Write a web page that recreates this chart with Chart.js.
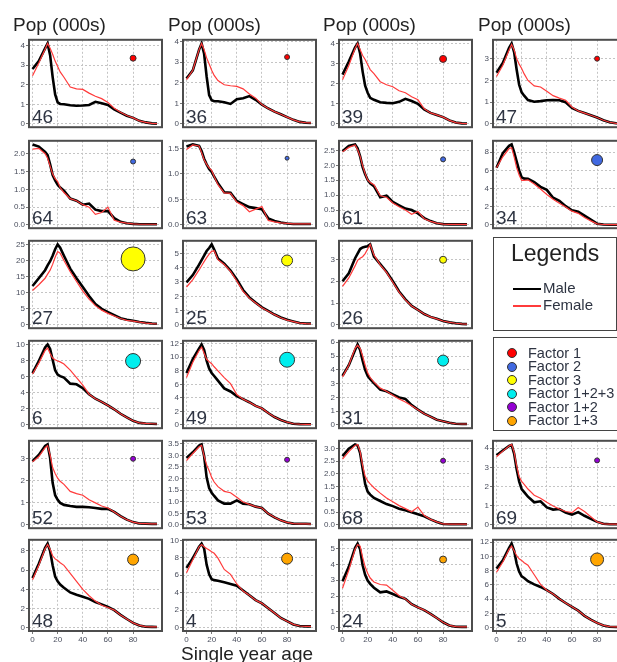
<!DOCTYPE html>
<html lang="en">
<head>
<meta charset="UTF-8">
<title>Pop (000s) by single year age</title>
<script src="https://cdn.jsdelivr.net/npm/chart.js"></script>
<style>
  html, body { margin: 0; padding: 0; background: #fff; }
  #page { position: relative; width: 617px; height: 662px; overflow: hidden;
          font-family: 'Liberation Sans', Arial, sans-serif; color: #222; }
  #page canvas { position: absolute; }
  .txt { position: absolute; white-space: nowrap; line-height: 1; }
  .pop { font-size: 19px; }
  .box { position: absolute; border: 1.5px solid #444; box-sizing: border-box; background: #fff; }
  .dot { position: absolute; width: 10px; height: 10px; border-radius: 50%;
         border: 1px solid #333; box-sizing: border-box; }
</style>
</head>
<body>
<div id="page"></div>
<script>
// single year age sample points
const ages = [0,5,10,12,14,16,18,20,22,25,30,35,40,45,50,55,60,65,70,75,80,85,90,95,99];
const xTicks = [0, 20, 40, 60, 80];

// population (000s), male and female, per area
const m46 = [2.8,3.2,3.85,4.1,3.5,2.4,1.5,1.1,1.02,1.0,0.95,0.93,0.94,0.97,1.13,1.05,0.97,0.74,0.58,0.42,0.31,0.16,0.08,0.03,0.02];
const f46 = [2.45,3.1,3.8,4.1,3.85,3.55,3.2,2.93,2.65,2.38,1.88,1.79,1.76,1.57,1.41,1.29,1.1,0.8,0.6,0.43,0.31,0.16,0.08,0.03,0.02];
const m36 = [2.2,2.6,3.6,3.9,3.4,2.3,1.4,1.15,1.1,1.1,1.05,0.97,1.2,1.25,1.35,1.17,0.94,0.75,0.6,0.47,0.33,0.2,0.1,0.06,0.05];
const f36 = [2.15,2.6,3.6,3.9,3.6,3.2,2.9,2.6,2.35,2.1,1.9,1.85,1.82,1.7,1.45,1.25,0.94,0.75,0.6,0.47,0.33,0.2,0.1,0.06,0.05];
const m39 = [2.45,3.1,3.8,4.0,3.5,2.6,1.9,1.55,1.3,1.2,1.08,1.05,1.03,1.1,1.25,1.14,1.0,0.72,0.55,0.45,0.34,0.18,0.07,0.03,0.02];
const f39 = [2.2,2.9,3.75,4.0,3.7,3.4,3.2,2.95,2.7,2.5,2.1,1.95,1.85,1.65,1.55,1.35,1.2,0.75,0.55,0.45,0.34,0.18,0.07,0.03,0.02];
const m47 = [2.36,2.8,3.5,3.7,3.3,2.5,1.8,1.45,1.3,1.1,1.02,1.05,1.09,1.1,1.09,1.0,0.74,0.6,0.5,0.4,0.3,0.17,0.08,0.03,0.02];
const f47 = [2.18,2.7,3.4,3.65,3.4,3.0,2.75,2.55,2.3,2.0,1.75,1.7,1.5,1.3,1.19,1.09,0.78,0.6,0.5,0.4,0.3,0.17,0.08,0.03,0.02];
const m64 = [2.26,2.2,2.05,1.96,1.7,1.4,1.25,1.13,1.05,0.96,0.74,0.68,0.57,0.6,0.43,0.39,0.39,0.19,0.09,0.05,0.03,0.02,0.02,0.02,0.02];
const f64 = [2.13,2.15,2.0,1.87,1.65,1.43,1.3,1.22,1.05,0.91,0.74,0.68,0.57,0.5,0.3,0.35,0.5,0.13,0.08,0.05,0.03,0.02,0.02,0.02,0.02];
const m63 = [1.54,1.58,1.55,1.45,1.3,1.19,1.1,1.04,0.95,0.82,0.64,0.63,0.47,0.41,0.35,0.33,0.31,0.13,0.08,0.05,0.03,0.02,0.02,0.02,0.02];
const f63 = [1.48,1.57,1.55,1.42,1.28,1.19,1.12,1.07,0.95,0.79,0.63,0.62,0.45,0.38,0.26,0.31,0.36,0.09,0.06,0.04,0.03,0.02,0.02,0.02,0.02];
const m61 = [2.47,2.65,2.7,2.57,2.3,1.94,1.7,1.51,1.4,1.3,0.93,0.98,0.77,0.66,0.55,0.5,0.39,0.23,0.13,0.06,0.03,0.02,0.02,0.02,0.02];
const f61 = [2.45,2.6,2.68,2.52,2.3,1.99,1.72,1.51,1.42,1.35,0.98,0.93,0.74,0.61,0.5,0.36,0.45,0.21,0.12,0.06,0.03,0.02,0.02,0.02,0.02];
const m34 = [6.3,7.9,8.7,8.86,8.0,7.0,6.0,5.24,5.1,5.07,4.72,4.2,3.86,3.0,2.66,2.07,1.62,1.45,1.03,0.59,0.14,0.05,0.03,0.03,0.03];
const f34 = [6.3,7.5,8.4,8.5,7.5,6.3,5.5,4.9,4.9,4.97,4.5,3.95,3.35,2.83,2.4,1.97,1.52,1.28,0.83,0.45,0.12,0.05,0.03,0.03,0.03];
const m27 = [12.1,14.5,17.0,18.5,19.8,21.5,23.5,25.0,24.0,21.5,17.5,14.5,11.8,9.0,6.5,5.0,4.0,3.05,2.1,1.6,1.33,0.95,0.67,0.48,0.4];
const f27 = [10.7,12.5,14.5,15.8,17.0,18.8,21.0,22.8,22.3,20.0,16.5,13.5,10.5,8.0,6.0,4.6,3.6,2.8,2.0,1.45,1.2,0.9,0.6,0.4,0.3];
const m25 = [2.97,3.48,4.21,4.53,4.84,5.16,5.37,5.62,5.26,4.64,4.28,3.8,3.17,2.44,1.92,1.56,1.23,0.98,0.73,0.52,0.36,0.25,0.14,0.1,0.1];
const f25 = [2.65,3.17,3.84,4.13,4.42,4.7,4.94,5.14,5.18,4.56,4.22,3.74,3.07,2.35,1.87,1.54,1.2,0.96,0.72,0.5,0.34,0.23,0.13,0.09,0.08];
const m26 = [2.0,2.36,3.05,3.26,3.47,3.54,3.57,3.6,3.68,3.12,2.78,2.43,2.0,1.53,1.17,0.87,0.69,0.5,0.37,0.28,0.18,0.12,0.08,0.05,0.04];
const f26 = [1.76,2.15,2.7,2.95,3.05,3.12,3.26,3.47,3.68,3.2,2.75,2.4,1.95,1.5,1.15,0.87,0.68,0.5,0.37,0.28,0.18,0.12,0.08,0.05,0.04];
const m6  = [6.44,7.94,9.63,10.0,9.44,8.1,6.8,6.25,6.07,5.88,5.13,5.05,4.57,3.82,3.26,2.88,2.43,1.95,1.39,0.94,0.52,0.26,0.19,0.15,0.12];
const f6  = [6.33,7.68,9.25,9.55,8.88,8.3,8.1,7.94,7.83,7.57,6.82,5.88,4.94,3.82,3.26,2.88,2.43,1.95,1.39,0.94,0.52,0.26,0.19,0.15,0.12];
const m49 = [7.68,9.73,11.3,11.9,11.1,9.5,8.36,7.68,7.23,6.55,5.41,4.95,4.27,3.82,3.36,2.82,2.45,1.77,1.18,0.73,0.41,0.18,0.12,0.1,0.1];
const f49 = [7.0,9.27,11.0,11.5,10.6,9.7,9.36,9.05,8.6,8.0,7.0,6.1,4.5,3.82,3.36,2.82,2.45,1.77,1.18,0.73,0.41,0.18,0.12,0.1,0.1];
const m31 = [3.56,4.33,5.44,5.84,5.44,4.67,4.0,3.56,3.33,3.04,2.56,2.44,2.22,2.0,1.89,1.44,1.11,0.82,0.6,0.38,0.27,0.16,0.09,0.07,0.07];
const f31 = [3.49,4.33,5.56,5.78,5.56,5.0,4.33,3.78,3.44,3.11,2.67,2.44,2.16,1.89,1.67,1.4,1.11,0.82,0.6,0.38,0.27,0.16,0.09,0.07,0.07];
const m52 = [2.89,3.17,3.58,3.65,3.03,1.91,1.35,1.14,1.0,0.91,0.86,0.82,0.82,0.8,0.77,0.73,0.73,0.59,0.4,0.24,0.13,0.07,0.06,0.05,0.05];
const f52 = [2.86,3.1,3.5,3.6,3.17,2.6,2.33,2.12,1.98,1.84,1.52,1.42,1.35,1.14,1.0,0.86,0.77,0.59,0.4,0.24,0.13,0.07,0.06,0.05,0.05];
const m53 = [2.89,3.13,3.42,3.47,2.97,2.05,1.59,1.39,1.25,1.06,0.92,0.92,1.06,0.92,0.89,0.79,0.73,0.49,0.33,0.2,0.11,0.06,0.05,0.05,0.04];
const f53 = [2.77,3.08,3.37,3.43,2.97,2.58,2.34,2.05,1.85,1.65,1.45,1.39,1.19,0.99,0.89,0.79,0.73,0.49,0.33,0.2,0.11,0.06,0.05,0.05,0.04];
const m68 = [2.7,2.99,3.16,3.12,2.82,2.21,1.61,1.31,1.19,1.06,0.94,0.82,0.74,0.64,0.58,0.5,0.42,0.34,0.22,0.12,0.04,0.03,0.03,0.03,0.03];
const f68 = [2.58,2.88,3.12,3.16,2.88,2.33,1.91,1.73,1.61,1.46,1.25,1.06,0.91,0.76,0.64,0.52,0.7,0.37,0.22,0.12,0.04,0.03,0.03,0.03,0.03];
const m69 = [3.63,3.87,4.11,4.16,3.71,2.91,2.27,1.87,1.71,1.47,1.18,1.23,0.91,0.8,0.83,0.64,0.54,0.67,0.48,0.32,0.16,0.06,0.04,0.04,0.04];
const f69 = [3.55,3.84,4.11,4.19,3.79,3.07,2.51,2.27,2.11,1.87,1.55,1.39,1.18,0.99,0.83,0.7,0.64,0.91,0.7,0.43,0.16,0.06,0.04,0.04,0.04];
const m48 = [5.17,6.67,8.33,8.77,8.0,6.5,5.33,4.83,4.5,4.17,3.67,3.43,3.23,3.0,2.67,2.43,2.17,1.83,1.33,0.9,0.5,0.23,0.1,0.08,0.07];
const f48 = [5.0,6.5,8.23,8.67,8.17,7.5,7.17,7.0,6.77,6.5,5.67,4.83,4.0,3.33,2.77,2.33,2.1,1.83,1.33,0.9,0.5,0.23,0.1,0.08,0.07];
const m4  = [6.85,7.96,9.26,9.63,9.07,7.22,6.11,5.56,5.44,5.37,5.19,5.0,4.81,4.26,3.7,3.15,2.78,2.22,1.67,1.11,0.74,0.37,0.19,0.15,0.15];
const f4  = [6.3,7.78,9.26,9.52,9.26,9.07,8.89,8.7,8.52,7.96,6.67,6.11,5.0,4.19,3.7,3.15,2.78,2.22,1.67,1.11,0.74,0.37,0.19,0.15,0.15];
const m24 = [2.94,3.85,5.06,5.32,4.96,3.95,3.34,2.98,2.77,2.53,2.23,2.29,2.13,1.96,1.82,1.48,1.28,1.11,0.87,0.61,0.34,0.14,0.06,0.05,0.05];
const f24 = [2.49,3.64,4.96,5.26,5.16,4.45,3.85,3.44,3.14,2.89,2.73,2.69,2.37,2.02,1.82,1.48,1.28,1.11,0.87,0.61,0.34,0.14,0.06,0.05,0.05];
const m5  = [8.31,9.44,11.2,11.8,10.8,9.0,7.87,7.19,6.97,6.52,6.07,5.71,5.26,4.72,4.04,3.46,2.92,2.38,1.66,1.12,0.67,0.31,0.13,0.1,0.1];
const f5  = [7.78,9.21,11.0,11.46,10.8,10.1,9.66,9.44,9.12,8.76,7.42,6.07,5.26,4.72,4.04,3.46,2.92,2.38,1.66,1.12,0.67,0.31,0.13,0.1,0.1];

// panels, read row by row (the legend boxes take two slots in column 4)
const areaIds    = ['46','36','39','47','64','63','61','34','27','25','26','6','49','31','52','53','68','69','48','4','24','5'];
const maleSeries = [m46,m36,m39,m47,m64,m63,m61,m34,m27,m25,m26,m6,m49,m31,m52,m53,m68,m69,m48,m4,m24,m5];
const femSeries  = [f46,f36,f39,f47,f64,f63,f61,f34,f27,f25,f26,f6,f49,f31,f52,f53,f68,f69,f48,f4,f24,f5];
const yTickStep  = [1,1,1,1, 0.5,0.5,0.5,2, 5,1,1, 2,2,1, 1,0.5,0.5,1, 2,2,1,2];
// factor marker: which factor, where it sits (y value at age 80) and its score
const factorOf    = [0,0,0,0, 1,1,1,1, 2,2,2, 3,3,3, 4,4,4,4, 5,5,5,5];
const factorY     = [3.35,3.24,3.23,3.0, 1.78,1.31,2.2,7.14, 20.5,4.5,2.98, 7.94,9.64,4.67, 3.0,2.81,2.52,3.36, 7.1,7.9,4.31,9.57];
const factorScore = [6,5,7,5, 5,4,5,11, 24,11,7, 15,15,11, 5,5,5,5, 11,11,7,13];

const factorNames  = ['Factor 1','Factor 2','Factor 3','Factor 1+2+3','Factor 1+2','Factor 1+3'];
const factorColors = ['#ff0000','#4169e1','#ffff00','#00eeee','#9400d3','#ffa500'];

// grid geometry
const slots = [[0,0],[0,1],[0,2],[0,3],[1,0],[1,1],[1,2],[1,3],[2,0],[2,1],[2,2],
               [3,0],[3,1],[3,2],[4,0],[4,1],[4,2],[4,3],[5,0],[5,1],[5,2],[5,3]];
const colLeft = [29, 183, 339, 493];
const rowTop = [36, 137, 237, 337, 437, 536];
const boxW = 133, boxH = 95;

Chart.defaults.font.family = "'Liberation Sans', Arial, sans-serif";
const page = document.getElementById('page');

const framePlugin = {
    id: 'frame',
    afterDraw(chart, args, opts) {
        const { ctx, chartArea: a } = chart;
        ctx.save();
        ctx.strokeStyle = '#4d4d4d';
        ctx.lineWidth = 2;
        ctx.strokeRect(a.left, a.top, a.right - a.left, a.bottom - a.top);
        ctx.fillStyle = '#2e3442';
        ctx.font = "19px 'Liberation Sans', Arial, sans-serif";
        ctx.textBaseline = 'alphabetic';
        ctx.fillText(opts.label, a.left + 3, a.bottom - 4);
        ctx.restore();
    }
};

function addText(txt, x, y, cls, style) {
    const d = document.createElement('div');
    d.className = 'txt ' + (cls || '');
    d.textContent = txt;
    d.style.left = x + 'px';
    d.style.top = y + 'px';
    if (style) Object.assign(d.style, style);
    page.appendChild(d);
    return d;
}

areaIds.forEach((id, i) => {
    const [row, col] = slots[i];
    const bottom = row === 5;
    const axisW = 26, padT = 2, padR = 2;
    const xAxisH = bottom ? 15 : 0, padB = bottom ? 0 : 2;
    const w = axisW + boxW + padR, h = padT + boxH + xAxisH + padB;

    const canvas = document.createElement('canvas');
    canvas.width = w; canvas.height = h;
    canvas.style.left = (colLeft[col] - axisW) + 'px';
    canvas.style.top = (rowTop[row] - padT) + 'px';
    page.appendChild(canvas);

    const male = maleSeries[i], fem = femSeries[i];
    const peak = Math.max(...male, ...fem);
    const lo = -0.04 * peak, hi = 1.045 * peak;
    const step = yTickStep[i];
    const yTicks = [];
    for (let v = 0; v <= hi + 1e-9; v += step) yTicks.push(+v.toFixed(2));

    new Chart(canvas, {
        data: {
            datasets: [
                { type: 'line', label: 'Female', order: 0,
                  data: ages.map((a, k) => ({ x: a, y: fem[k] })),
                  borderColor: '#ff3b3b', borderWidth: 1.2, pointRadius: 0, tension: 0 },
                { type: 'line', label: 'Male', order: 1,
                  data: ages.map((a, k) => ({ x: a, y: male[k] })),
                  borderColor: '#000', borderWidth: 2.6, pointRadius: 0, tension: 0 },
                { type: 'bubble', label: factorNames[factorOf[i]], order: 2,
                  data: [{ x: 80, y: factorY[i], r: factorScore[i] / 2 }],
                  backgroundColor: factorColors[factorOf[i]], borderColor: '#333', borderWidth: 1 }
            ]
        },
        options: {
            responsive: false,
            animation: false,
            events: [],
            layout: { autoPadding: false, padding: { top: padT, right: padR, bottom: padB, left: 0 } },
            plugins: { legend: { display: false }, tooltip: { enabled: false }, frame: { label: id } },
            scales: {
                x: {
                    type: 'linear', min: -2.8, max: 103,
                    afterBuildTicks: s => { s.ticks = xTicks.map(v => ({ value: v })); },
                    afterFit: s => { s.height = xAxisH; },
                    ticks: { display: bottom, font: { size: 8 }, color: '#4a4f5e', padding: 1, maxRotation: 0 },
                    grid: { color: '#c4c4c4', drawTicks: bottom, tickLength: 3, tickColor: '#777' },
                    border: { display: false, dash: [2, 2] }
                },
                y: {
                    type: 'linear', min: lo, max: hi,
                    afterBuildTicks: s => { s.ticks = yTicks.map(v => ({ value: v })); },
                    afterFit: s => { s.width = axisW; },
                    ticks: { font: { size: 8 }, color: '#4a4f5e', padding: 1, autoSkip: false,
                             callback: v => step < 1 ? v.toFixed(1) : String(v) },
                    grid: { color: '#c4c4c4', tickLength: 3, tickColor: '#777' },
                    border: { display: false, dash: [2, 2] }
                }
            }
        },
        plugins: [framePlugin]
    });
});

// column headings and axis title
[13, 168, 323, 478].forEach(x => addText('Pop (000s)', x, 15, 'pop'));
addText('Single year age', 181, 644, 'pop');

// line legend box
const lb = document.createElement('div');
lb.className = 'box';
Object.assign(lb.style, { left: '493px', top: '237px', width: '124px', height: '94px' });
page.appendChild(lb);
addText('Legends', 511, 242, '', { fontSize: '23px' });
[['Male', '#000', 2.6, 289], ['Female', '#ff3b3b', 1.2, 306]].forEach(([t, c, lw, y]) => {
    const ln = document.createElement('div');
    Object.assign(ln.style, { position: 'absolute', left: '513px', top: (y - lw / 2) + 'px',
        width: '28px', height: lw + 'px', background: c });
    page.appendChild(ln);
    addText(t, 543, y - 9, '', { fontSize: '15px', color: '#2e3442' });
});

// factor legend box
const fb = document.createElement('div');
fb.className = 'box';
Object.assign(fb.style, { left: '493px', top: '337px', width: '130px', height: '94px' });
page.appendChild(fb);
factorNames.forEach((name, k) => {
    const cy = 353 + k * 13.5;
    const d = document.createElement('div');
    d.className = 'dot';
    Object.assign(d.style, { left: '507px', top: (cy - 5) + 'px', background: factorColors[k] });
    page.appendChild(d);
    addText(name, 528, cy - 7.5, '', { fontSize: '14.5px', color: '#2e3442' });
});
</script>
</body>
</html>
